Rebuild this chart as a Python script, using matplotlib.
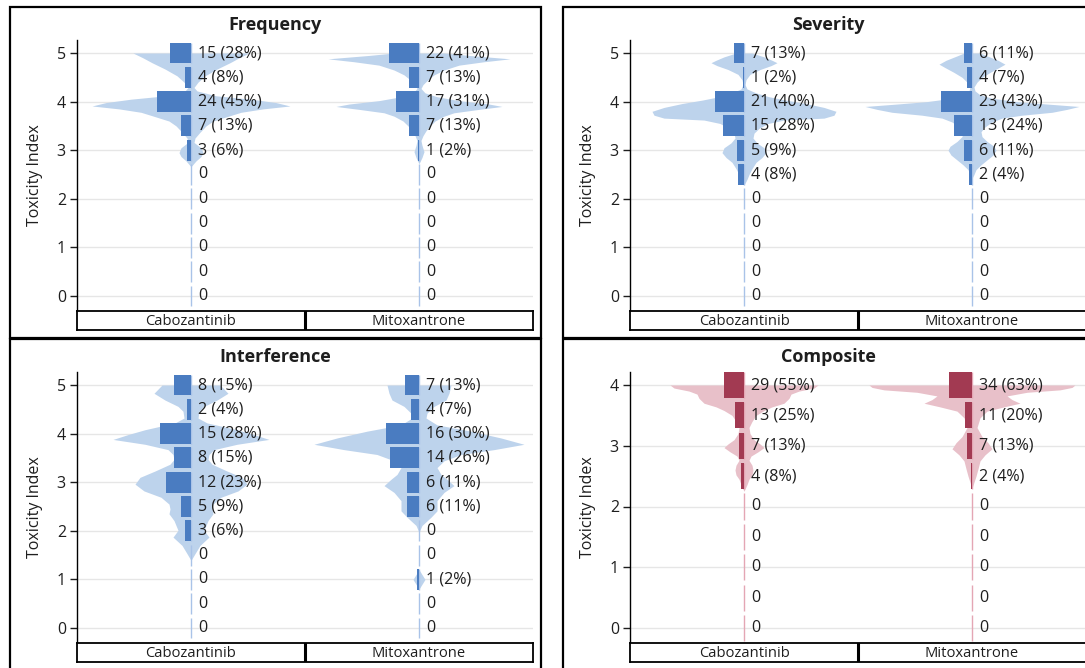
import matplotlib
matplotlib.use("Agg")
import matplotlib.pyplot as plt
from matplotlib.patches import Rectangle

plt.rcParams['font.family'] = ['Open Sans', 'DejaVu Sans']

W, H = 1085, 668

groups = ['Cabozantinib', 'Mitoxantrone']
n_patients = [53, 54]

levels5 = [5, 4.5, 4, 3.5, 3, 2.5, 2, 1.5, 1, 0.5, 0]
levels4 = [4, 3.5, 3, 2.5, 2, 1.5, 1, 0.5, 0]

# counts per toxicity level (top to bottom)
freq_cabo = [15, 4, 24, 7, 3, 0, 0, 0, 0, 0, 0]
freq_mito = [22, 7, 17, 7, 1, 0, 0, 0, 0, 0, 0]
sev_cabo = [7, 1, 21, 15, 5, 4, 0, 0, 0, 0, 0]
sev_mito = [6, 4, 23, 13, 6, 2, 0, 0, 0, 0, 0]
int_cabo = [8, 2, 15, 8, 12, 5, 3, 0, 0, 0, 0]
int_mito = [7, 4, 16, 14, 6, 6, 0, 0, 1, 0, 0]
comp_cabo = [29, 13, 7, 4, 0, 0, 0, 0, 0]
comp_mito = [34, 11, 7, 2, 0, 0, 0, 0, 0]

# violin outlines: y and half-width (density, px scale)
freq_cabo_vy = [5.0, 4.9, 4.8, 4.67, 4.53, 4.4, 4.29, 4.22, 4.12, 4.05, 3.98, 3.91, 3.85, 3.78,
                3.71, 3.6, 3.5, 3.37, 3.25, 3.16, 3.05, 2.95, 2.87, 2.78, 2.66]
freq_cabo_vw = [58, 48, 39, 26, 14, 7, 3, 6, 25, 60, 85, 99, 72, 50, 39, 22, 15, 9, 4, 3, 10, 12, 10, 5, 0]
freq_mito_vy = [5.0, 4.95, 4.88, 4.82, 4.75, 4.65, 4.55, 4.45, 4.35, 4.27, 4.18, 4.1, 4.02, 3.95,
                3.9, 3.84, 3.77, 3.7, 3.6, 3.5, 3.4, 3.3, 3.2, 3.1, 2.97, 2.85, 2.72]
freq_mito_vw = [25, 50, 91, 65, 40, 25, 15, 9, 4, 2, 6, 18, 40, 70, 83, 60, 35, 25, 16, 11, 7, 4, 2, 3, 5, 3, 0]
sev_cabo_vy = [5.0, 4.92, 4.85, 4.8, 4.74, 4.66, 4.56, 4.45, 4.35, 4.26, 4.18, 4.1, 4.03, 3.96, 3.88,
               3.8, 3.72, 3.66, 3.62, 3.55, 3.45, 3.35, 3.25, 3.15, 3.05, 2.95, 2.85, 2.75, 2.62, 2.5,
               2.4, 2.28]
sev_cabo_vw = [8, 20, 28, 33, 27, 16, 6, 2, 1, 3, 12, 25, 42, 62, 80, 92, 90, 80, 40, 24, 15, 10, 9,
               13, 20, 22, 18, 12, 8, 5, 3, 0]
sev_mito_vy = [5.0, 4.94, 4.85, 4.77, 4.7, 4.6, 4.5, 4.4, 4.3, 4.22, 4.14, 4.07, 4.0, 3.95, 3.9, 3.84,
               3.78, 3.72, 3.66, 3.58, 3.48, 3.38, 3.28, 3.18, 3.08, 3.0, 2.9, 2.8, 2.7, 2.6, 2.5, 2.42]
sev_mito_vw = [8, 15, 26, 33, 27, 18, 10, 5, 2, 3, 8, 20, 45, 75, 107, 95, 80, 50, 30, 20, 13, 9, 10,
               15, 22, 24, 21, 15, 9, 4, 2, 0]
int_cabo_vy = [5.0, 4.83, 4.69, 4.56, 4.46, 4.32, 4.22, 4.08, 3.98, 3.88, 3.78, 3.67, 3.57, 3.47, 3.37,
               3.23, 3.1, 2.96, 2.82, 2.69, 2.55, 2.45, 2.35, 2.21, 2.01, 1.87, 1.7, 1.53, 1.39]
int_cabo_vw = [29, 37, 26, 13, 8, 7, 16, 46, 63, 78, 46, 23, 18, 17, 21, 36, 51, 56, 47, 30, 22, 21,
               22, 17, 13, 18, 9, 4, 0]
int_mito_vy = [5.0, 4.83, 4.69, 4.56, 4.42, 4.32, 4.18, 4.05, 3.91, 3.78, 3.67, 3.57, 3.44, 3.3, 3.16,
               3.06, 2.93, 2.79, 2.62, 2.41, 2.28, 2.11, 1.97, 1.2, 1.0, 0.8]
int_mito_vw = [32, 30, 27, 15, 8, 7, 18, 52, 82, 105, 75, 42, 25, 18, 22, 28, 35, 25, 18, 18, 12, 3,
               0, 0, 6, 0]
comp_cabo_vy = [4.0, 3.95, 3.9, 3.85, 3.78, 3.7, 3.64, 3.58, 3.5, 3.4, 3.3, 3.2, 3.1, 3.03, 2.97, 2.9,
                2.83, 2.76, 2.68, 2.6, 2.52, 2.45, 2.36, 2.25]
comp_cabo_vw = [74, 70, 55, 47, 45, 40, 28, 20, 12, 8, 5, 6, 10, 16, 20, 14, 7, 5, 8, 9, 8, 5, 3, 0]
comp_mito_vy = [4.0, 3.96, 3.92, 3.88, 3.82, 3.76, 3.7, 3.64, 3.57, 3.46, 3.3, 3.15, 3.05, 2.95, 2.85,
                2.75, 2.62, 2.5, 2.4, 2.3]
comp_mito_vw = [103, 100, 88, 55, 35, 40, 48, 32, 15, 8, 5, 10, 16, 20, 13, 8, 6, 4, 2, 0]

BLUE = ('#4a7cc1', '#bdd3ec', '#a9c3e8')
RED = ('#a23a52', '#e8c0c9', '#e4a6b4')

AX_W = 456.0  # axis width in px
TXT = '#1e1e1e'


def frac(x0, y0, x1, y1):
    return [x0 / W, 1 - y1 / H, (x1 - x0) / W, (y1 - y0) / H]


def draw_panel(fig, px, py, title, levels, counts, vys, vws, top, bar_px, colors):
    fig.add_artist(Rectangle((px / W, 1 - (py + 331) / H), 531 / W, 331 / H,
                             transform=fig.transFigure, fill=False, ec='black', lw=1.6))
    ax0 = px + 67
    ax = fig.add_axes(frac(ax0, py + 33, ax0 + AX_W, py + 304))
    unit = 243.0 / top
    ax.set_ylim(-15 / unit, top + 13 / unit)
    ax.set_xlim(0, 2)
    k = 2 / AX_W
    for i in range(2):
        c = 0.5 + i
        vy, vw = vys[i], vws[i]
        ax.fill_betweenx(vy, [c - w * k for w in vw], [c + w * k for w in vw],
                         color=colors[1], lw=0, zorder=1)
        ax.vlines([c] * len(levels), [l - 0.215 for l in levels], [l + 0.215 for l in levels],
                  color=colors[2], lw=1, zorder=2)
        widths = [-100.0 * n / n_patients[i] * bar_px * k for n in counts[i]]
        ax.barh(levels, widths, left=c, height=0.43, color=colors[0], lw=0, zorder=3)
        for lv, n in zip(levels, counts[i]):
            lab = f"{n} ({round(100 * n / n_patients[i])}%)" if n else "0"
            ax.text(c + 7 * k, lv, lab, va='center', ha='left', fontsize=11.6,
                    color=TXT, zorder=4)
    ax.set_yticks(range(top + 1))
    ax.set_xticks([])
    ax.grid(axis='y', color='#e6e6e6', lw=1)
    ax.set_axisbelow(True)
    for s in ['top', 'right', 'bottom']:
        ax.spines[s].set_visible(False)
    ax.spines['left'].set_linewidth(1)
    ax.tick_params(axis='y', length=5, width=1, labelsize=11.5, pad=3, colors=TXT)
    ax.set_ylabel('Toxicity Index', fontsize=11.5, color=TXT, labelpad=10)
    fig.text((px + 265.5) / W, 1 - (py + 18) / H, title, ha='center', va='center',
             fontsize=13, fontweight='bold', color=TXT)
    # category strip
    cx = fig.add_axes(frac(ax0, py + 304, ax0 + AX_W, py + 323))
    cx.set_xlim(0, 2)
    cx.set_ylim(0, 1)
    cx.set_xticks([])
    cx.set_yticks([])
    for s in cx.spines.values():
        s.set_linewidth(1.3)
    cx.axvline(1, color='black', lw=2.2)
    for i, g in enumerate(groups):
        cx.text(0.5 + i, 0.45, g, ha='center', va='center', fontsize=10.6, color=TXT)


fig = plt.figure(figsize=(W / 100, H / 100), dpi=100)

draw_panel(fig, 10, 7, 'Frequency', levels5, [freq_cabo, freq_mito],
           [freq_cabo_vy, freq_mito_vy], [freq_cabo_vw, freq_mito_vw], 5, 0.74, BLUE)
draw_panel(fig, 563, 7, 'Severity', levels5, [sev_cabo, sev_mito],
           [sev_cabo_vy, sev_mito_vy], [sev_cabo_vw, sev_mito_vw], 5, 0.73, BLUE)
draw_panel(fig, 10, 339, 'Interference', levels5, [int_cabo, int_mito],
           [int_cabo_vy, int_mito_vy], [int_cabo_vw, int_mito_vw], 5, 1.1, BLUE)
draw_panel(fig, 563, 339, 'Composite', levels4, [comp_cabo, comp_mito],
           [comp_cabo_vy, comp_mito_vy], [comp_cabo_vw, comp_mito_vw], 4, 0.365, RED)

fig.savefig('out.png', dpi=100)
